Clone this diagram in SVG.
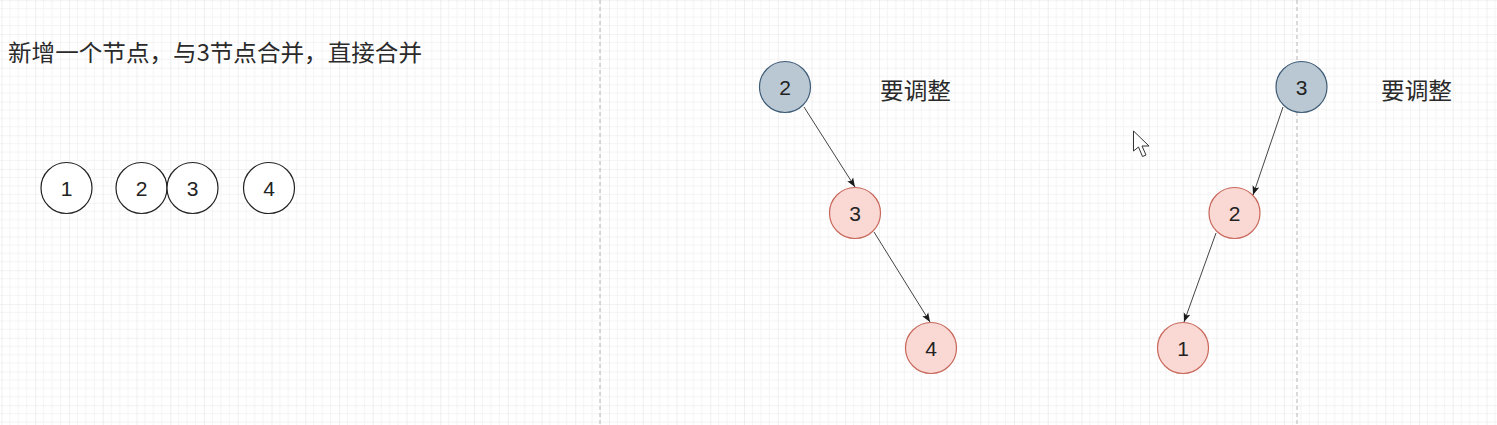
<svg xmlns="http://www.w3.org/2000/svg" width="1497" height="425" viewBox="0 0 1497 425">
<defs>
<pattern id="grid" patternUnits="userSpaceOnUse" x="1.5" y="0.25" width="33.75" height="33.75">
<path d="M8.44 0V33.75M16.88 0V33.75M25.31 0V33.75M0 8.44H33.75M0 16.88H33.75M0 25.31H33.75" stroke="#f4f4f4" stroke-width="1" fill="none"/>
<path d="M0 0V33.75M0 0H33.75" stroke="#e5e5e5" stroke-width="1.2" fill="none"/>
</pattern>
<marker id="arr" markerUnits="userSpaceOnUse" markerWidth="10" markerHeight="10" viewBox="0 0 10 10" refX="9" refY="5" orient="auto">
<path d="M0 1.5L9 5L0 8.5L2 5Z" fill="#1a1a1a"/>
</marker>
</defs>
<style>
.t{font-family:"Microsoft YaHei","Noto Sans CJK SC","Liberation Sans",sans-serif;font-size:23px;fill:#2a2a2a}
.d{font-family:"Liberation Sans",Arial,sans-serif;font-size:21px;fill:#222;text-anchor:middle}
.w{fill:#ffffff;stroke:#222;stroke-width:1.2}
.b{fill:#bac8d3;stroke:#3f5c77;stroke-width:1.2}
.r{fill:#fad9d5;stroke:#c8675a;stroke-width:1.2}
.e{stroke:#444;stroke-width:1;fill:none;marker-end:url(#arr)}
.dash{stroke:#b5b5b5;stroke-width:1;stroke-dasharray:4 3}
</style>
<rect width="1497" height="425" fill="#ffffff"/>
<rect width="1497" height="425" fill="url(#grid)"/>
<line class="dash" x1="600" y1="0" x2="600" y2="425"/>
<line class="dash" x1="1297" y1="0" x2="1297" y2="425"/>
<text class="t" x="8" y="61" textLength="414" lengthAdjust="spacingAndGlyphs">新增一个节点，与3节点合并，直接合并</text>
<g id="n1"><circle class="w" cx="66.5" cy="188" r="25.5"/><text class="d" x="66.5" y="195.5">1</text></g>
<g id="n2"><circle class="w" cx="141.5" cy="188" r="25.5"/><text class="d" x="141.5" y="195.5">2</text></g>
<g id="n3"><circle class="w" cx="192.5" cy="188" r="25.5"/><text class="d" x="192.5" y="195.5">3</text></g>
<g id="n4"><circle class="w" cx="269" cy="188" r="25.5"/><text class="d" x="269" y="195.5">4</text></g>
<g id="m2"><circle class="b" cx="785" cy="87" r="25.5"/><text class="d" x="785" y="94.5">2</text></g>
<g id="m3"><circle class="r" cx="855" cy="213" r="25.5"/><text class="d" x="855" y="220.5">3</text></g>
<g id="m4"><circle class="r" cx="931" cy="348" r="25.5"/><text class="d" x="931" y="355.5">4</text></g>
<text class="t" x="880" y="99" textLength="71" lengthAdjust="spacingAndGlyphs">要调整</text>
<g id="r3"><circle class="b" cx="1301.5" cy="87" r="25.5"/><text class="d" x="1301.5" y="94.5">3</text></g>
<g id="r2"><circle class="r" cx="1234.5" cy="213" r="25.5"/><text class="d" x="1234.5" y="220.5">2</text></g>
<g id="r1"><circle class="r" cx="1183" cy="348" r="25.5"/><text class="d" x="1183" y="355.5">1</text></g>
<text class="t" x="1381" y="99" textLength="71" lengthAdjust="spacingAndGlyphs">要调整</text>
<g id="connectors">
<line class="e" x1="804" y1="107" x2="855" y2="187"/>
<line class="e" x1="874" y1="232" x2="930" y2="322"/>
<line class="e" x1="1283" y1="107" x2="1253" y2="195"/>
<line class="e" x1="1216" y1="233" x2="1184" y2="322"/>
</g>
<path d="M1133.5 131L1133.5 151L1138.5 147L1142.5 156.5L1146 155L1142 146L1149 146Z" fill="#ffffff" stroke="#333" stroke-width="1" stroke-linejoin="round"/>
</svg>
